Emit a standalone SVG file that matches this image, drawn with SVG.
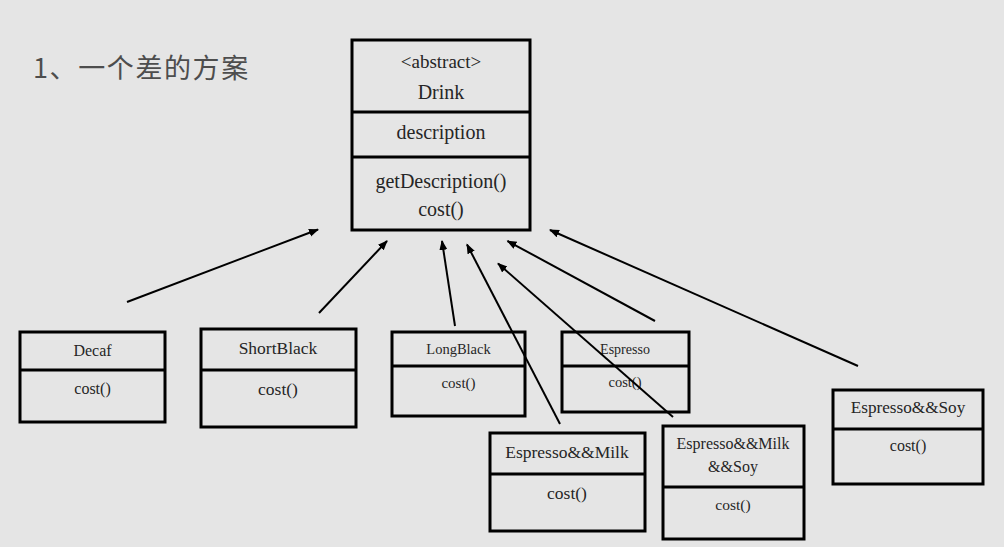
<svg xmlns="http://www.w3.org/2000/svg" width="1004" height="547" viewBox="0 0 1004 547">
<defs>
<style>
.bg{fill:#e5e5e5}
.box{fill:none;stroke:#000;stroke-width:3}
.div{stroke:#000;stroke-width:3}
.t{font-family:"Liberation Serif","Times New Roman",serif;fill:#262626;text-anchor:middle}
.title{font-family:"Noto Sans CJK SC","Noto Sans",sans-serif;fill:#4d4d4d;font-size:27px;letter-spacing:1.6px}
.conn line{stroke:#000;stroke-width:2;marker-end:url(#arr)}
</style>
<marker id="arr" markerUnits="userSpaceOnUse" markerWidth="12" markerHeight="10" refX="9" refY="4" orient="auto">
<path d="M0,0 L10,4 L0,8 Z" fill="#000"/>
</marker>
</defs>
<rect class="bg" x="0" y="0" width="1004" height="547"/>
<text class="title" x="33" y="78">1、一个差的方案</text>

<g id="drink">
<rect class="box" x="352" y="40" width="178" height="190"/>
<line class="div" x1="352" y1="112" x2="530" y2="112"/>
<line class="div" x1="352" y1="157" x2="530" y2="157"/>
<text class="t" x="441" y="68" font-size="19">&lt;abstract&gt;</text>
<text class="t" x="441" y="99" font-size="20">Drink</text>
<text class="t" x="441" y="139" font-size="20">description</text>
<text class="t" x="441" y="188" font-size="20">getDescription()</text>
<text class="t" x="441" y="216" font-size="20">cost()</text>
</g>

<g id="decaf">
<rect class="box" x="20" y="332" width="145" height="90"/>
<line class="div" x1="20" y1="370" x2="165" y2="370"/>
<text class="t" x="92.5" y="356" font-size="16">Decaf</text>
<text class="t" x="92.5" y="394" font-size="16">cost()</text>
</g>

<g id="shortblack">
<rect class="box" x="201" y="329" width="155" height="98"/>
<line class="div" x1="201" y1="370" x2="356" y2="370"/>
<text class="t" x="278" y="354" font-size="17.5">ShortBlack</text>
<text class="t" x="278" y="395" font-size="17.5">cost()</text>
</g>

<g id="longblack">
<rect class="box" x="392" y="332" width="133" height="84"/>
<line class="div" x1="392" y1="366" x2="525" y2="366"/>
<text class="t" x="458.5" y="354" font-size="14.5">LongBlack</text>
<text class="t" x="458.5" y="388" font-size="15">cost()</text>
</g>

<g id="espresso">
<rect class="box" x="562" y="332" width="127" height="80"/>
<line class="div" x1="562" y1="366" x2="689" y2="366"/>
<text class="t" x="625" y="354" font-size="14">Espresso</text>
<text class="t" x="625" y="387" font-size="14.5">cost()</text>
</g>

<g id="espresso-milk">
<rect class="box" x="490" y="433" width="155" height="98"/>
<line class="div" x1="490" y1="474" x2="645" y2="474"/>
<text class="t" x="567" y="458" font-size="17.5">Espresso&amp;&amp;Milk</text>
<text class="t" x="567" y="499" font-size="17.5">cost()</text>
</g>

<g id="espresso-milk-soy">
<rect class="box" x="663" y="426" width="141" height="113"/>
<line class="div" x1="663" y1="487" x2="804" y2="487"/>
<text class="t" x="733" y="449" font-size="16">Espresso&amp;&amp;Milk</text>
<text class="t" x="733" y="472" font-size="16">&amp;&amp;Soy</text>
<text class="t" x="733" y="510" font-size="15.5">cost()</text>
</g>

<g id="espresso-soy">
<rect class="box" x="833" y="390" width="150" height="94"/>
<line class="div" x1="833" y1="429" x2="983" y2="429"/>
<text class="t" x="908" y="413" font-size="17.2">Espresso&amp;&amp;Soy</text>
<text class="t" x="908" y="451" font-size="16">cost()</text>
</g>

<g id="connectors" class="conn">
<line x1="127" y1="302" x2="318" y2="229.5"/>
<line x1="319" y1="313" x2="387" y2="241"/>
<line x1="455" y1="326" x2="442" y2="241"/>
<line x1="560" y1="424" x2="467" y2="244.5"/>
<line x1="673" y1="417" x2="498" y2="263.5"/>
<line x1="655" y1="321" x2="507.5" y2="241"/>
<line x1="858" y1="366" x2="550" y2="230"/>
</g>
</svg>
